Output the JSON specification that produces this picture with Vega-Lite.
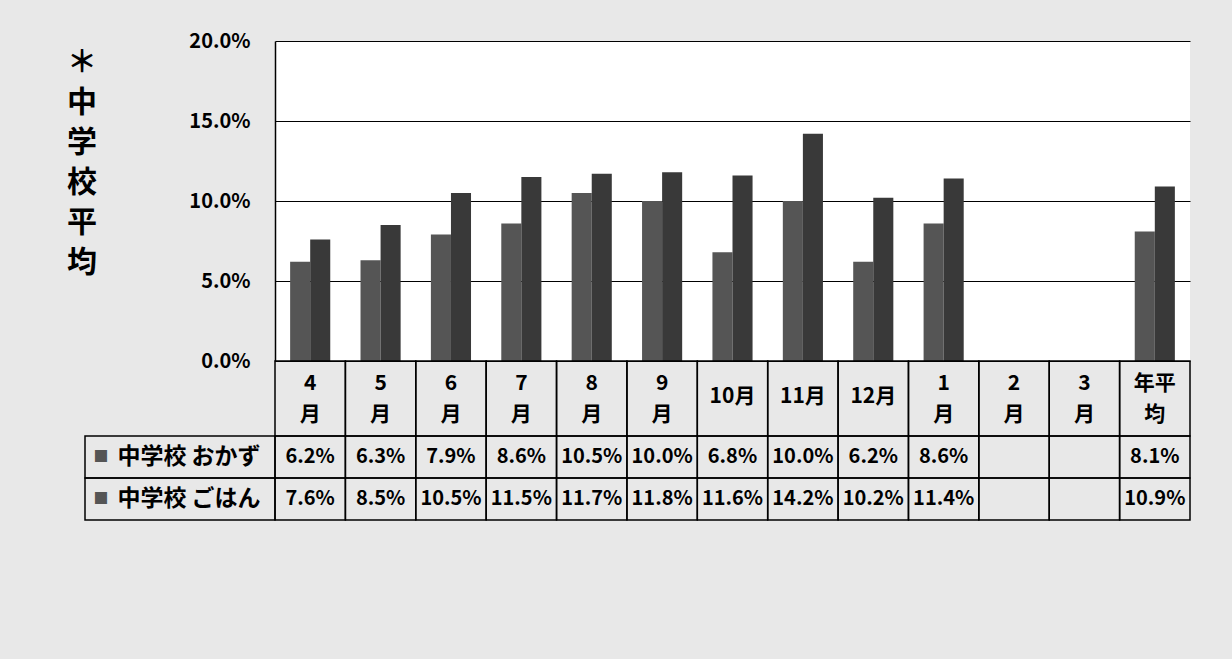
{
  "$schema": "https://vega.github.io/schema/vega-lite/v6.json",
  "background": "#e8e8e8",
  "padding": {"left": 67, "top": 31, "right": 42, "bottom": 141},
  "config": {"view": {"stroke": null}, "font": "Noto Sans CJK JP", "concat": {"spacing": 0}},
  "datasets": {
    "d": [
      {"month": "4月", "series": "中学校 おかず", "value": 0.062},
      {"month": "5月", "series": "中学校 おかず", "value": 0.063},
      {"month": "6月", "series": "中学校 おかず", "value": 0.079},
      {"month": "7月", "series": "中学校 おかず", "value": 0.086},
      {"month": "8月", "series": "中学校 おかず", "value": 0.105},
      {"month": "9月", "series": "中学校 おかず", "value": 0.100},
      {"month": "10月", "series": "中学校 おかず", "value": 0.068},
      {"month": "11月", "series": "中学校 おかず", "value": 0.100},
      {"month": "12月", "series": "中学校 おかず", "value": 0.062},
      {"month": "1月", "series": "中学校 おかず", "value": 0.086},
      {"month": "2月", "series": "中学校 おかず", "value": null},
      {"month": "3月", "series": "中学校 おかず", "value": null},
      {"month": "年平均", "series": "中学校 おかず", "value": 0.081},
      {"month": "4月", "series": "中学校 ごはん", "value": 0.076},
      {"month": "5月", "series": "中学校 ごはん", "value": 0.085},
      {"month": "6月", "series": "中学校 ごはん", "value": 0.105},
      {"month": "7月", "series": "中学校 ごはん", "value": 0.115},
      {"month": "8月", "series": "中学校 ごはん", "value": 0.117},
      {"month": "9月", "series": "中学校 ごはん", "value": 0.118},
      {"month": "10月", "series": "中学校 ごはん", "value": 0.116},
      {"month": "11月", "series": "中学校 ごはん", "value": 0.142},
      {"month": "12月", "series": "中学校 ごはん", "value": 0.102},
      {"month": "1月", "series": "中学校 ごはん", "value": 0.114},
      {"month": "2月", "series": "中学校 ごはん", "value": null},
      {"month": "3月", "series": "中学校 ごはん", "value": null},
      {"month": "年平均", "series": "中学校 ごはん", "value": 0.109}
    ],
    "m": [
      {"month": "4月", "l1": "4", "l2": "月"},
      {"month": "5月", "l1": "5", "l2": "月"},
      {"month": "6月", "l1": "6", "l2": "月"},
      {"month": "7月", "l1": "7", "l2": "月"},
      {"month": "8月", "l1": "8", "l2": "月"},
      {"month": "9月", "l1": "9", "l2": "月"},
      {"month": "10月", "l0": "10月"},
      {"month": "11月", "l0": "11月"},
      {"month": "12月", "l0": "12月"},
      {"month": "1月", "l1": "1", "l2": "月"},
      {"month": "2月", "l1": "2", "l2": "月"},
      {"month": "3月", "l1": "3", "l2": "月"},
      {"month": "年平均", "l1": "年平", "l2": "均"}
    ],
    "s": [
      {"series": "中学校 おかず"},
      {"series": "中学校 ごはん"}
    ],
    "t": [
      {"title": "＊\n中\n学\n校\n平\n均"}
    ]
  },
  "columns": 2,
  "spacing": 0,
  "bounds": "flush",
  "concat": [
    {
      "width": 190,
      "height": 320,
      "data": {"name": "t"},
      "mark": {"type": "text", "fontSize": 30, "fontWeight": "bold", "lineBreak": "\n", "lineHeight": 40, "dx": -98, "dy": -138, "color": "black"},
      "encoding": {"text": {"field": "title"}}
    },
    {
      "width": 915,
      "height": 320,
      "view": {"fill": "white", "stroke": null},
      "data": {"name": "d"},
      "mark": {"type": "bar"},
      "encoding": {
        "x": {"field": "month", "type": "nominal", "sort": ["4月","5月","6月","7月","8月","9月","10月","11月","12月","1月","2月","3月","年平均"], "scale": {"paddingInner": 0.43, "paddingOuter": 0.215}, "axis": null},
        "xOffset": {"field": "series", "sort": ["中学校 おかず", "中学校 ごはん"]},
        "y": {"field": "value", "type": "quantitative", "scale": {"domain": [0, 0.2]},
          "axis": {"format": ".1%", "values": [0, 0.05, 0.1, 0.15, 0.2], "title": null, "grid": true, "gridColor": "black", "gridOpacity": 1, "gridWidth": 1, "domainColor": "black", "domainWidth": 1.5, "ticks": false, "tickSize": 0, "labelFontSize": 20, "labelColor": "black", "labelPadding": 25, "labelFontWeight": "bold"}},
        "color": {"field": "series", "type": "nominal", "scale": {"range": ["#555555", "#393939"]}, "legend": null}
      }
    },
    {
      "width": 190,
      "height": 75,
      "data": {"values": []},
      "mark": {"type": "rect"},
      "encoding": {}
    },
    {
      "width": 915,
      "height": 75,
      "data": {"name": "m"},
      "encoding": {
        "x": {"field": "month", "type": "nominal", "sort": ["4月","5月","6月","7月","8月","9月","10月","11月","12月","1月","2月","3月","年平均"], "scale": {"paddingInner": 0, "paddingOuter": 0}, "axis": null}
      },
      "layer": [
        {
          "mark": {"type": "rect", "fill": "transparent", "stroke": "black", "strokeWidth": 1.5}
        },
        {
          "transform": [{"filter": "isValid(datum.l1)"}],
          "mark": {"type": "text", "fontSize": 21, "color": "black", "fontWeight": "bold", "dy": -15},
          "encoding": {"text": {"field": "l1"}}
        },
        {
          "transform": [{"filter": "isValid(datum.l2)"}],
          "mark": {"type": "text", "fontSize": 21, "color": "black", "fontWeight": "bold", "dy": 16},
          "encoding": {"text": {"field": "l2"}}
        },
        {
          "transform": [{"filter": "isValid(datum.l0)"}],
          "mark": {"type": "text", "fontSize": 21, "color": "black", "fontWeight": "bold", "dy": -2},
          "encoding": {"text": {"field": "l0"}}
        }
      ]
    },
    {
      "width": 190,
      "height": 84,
      "data": {"name": "s"},
      "encoding": {"y": {"field": "series", "type": "nominal", "sort": ["中学校 おかず", "中学校 ごはん"], "scale": {"paddingInner": 0, "paddingOuter": 0}, "axis": null}},
      "layer": [
        {
          "mark": {"type": "rect", "fill": "transparent", "stroke": "black", "strokeWidth": 1.5}
        },
        {
          "mark": {"type": "text", "text": "■", "fontSize": 15, "color": "#555555", "dx": -79}
        },
        {
          "mark": {"type": "text", "fontSize": 23, "color": "black", "dx": 9, "fontWeight": "bold"},
          "encoding": {"text": {"field": "series"}}
        }
      ]
    },
    {
      "width": 915,
      "height": 84,
      "data": {"name": "d"},
      "encoding": {
        "x": {"field": "month", "type": "nominal", "sort": ["4月","5月","6月","7月","8月","9月","10月","11月","12月","1月","2月","3月","年平均"], "scale": {"paddingInner": 0, "paddingOuter": 0}, "axis": null},
        "y": {"field": "series", "type": "nominal", "sort": ["中学校 おかず", "中学校 ごはん"], "scale": {"paddingInner": 0, "paddingOuter": 0}, "axis": null}
      },
      "layer": [
        {
          "mark": {"type": "rect", "fill": "transparent", "stroke": "black", "strokeWidth": 1.5}
        },
        {
          "transform": [{"filter": "isValid(datum.value)"}],
          "mark": {"type": "text", "fontSize": 20, "color": "black", "fontWeight": "bold"},
          "encoding": {"text": {"field": "value", "format": ".1%"}}
        }
      ]
    }
  ]
}
